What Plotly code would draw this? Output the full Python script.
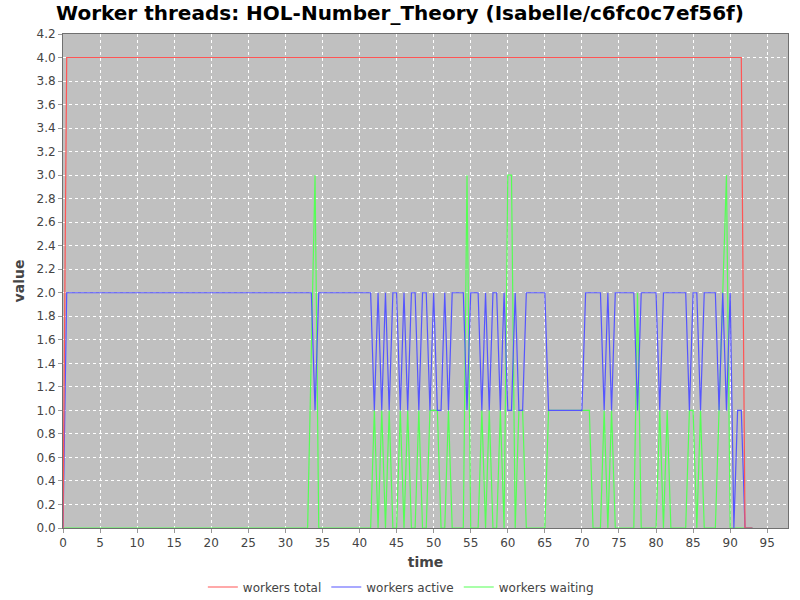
import plotly.graph_objects as go

# ---- data ----
total_t = [0, 0.5, 91.5, 92.0, 93.0]
total_v = [0, 4, 4, 0, 0]

active_t = [0, 0.5, 33.5, 34.0, 34.5, 41.5, 42.0, 42.5, 43.0, 43.5, 44.0, 44.5, 45.0, 45.5,
            46.0, 46.5, 47.0, 47.5, 48.0, 48.5, 49.0, 49.5, 50.0, 50.5, 51.0, 51.5, 52.0,
            52.5, 54.0, 54.5, 55.0, 56.0, 56.5, 57.0, 57.5, 58.0, 58.5, 59.0, 59.5, 60.0,
            60.5, 61.0, 61.5, 62.0, 62.5, 65.0, 65.5, 70.0, 70.5, 72.5, 73.0, 73.5, 74.0,
            74.5, 77.0, 77.5, 78.0, 80.0, 80.5, 81.0, 84.0, 84.5, 85.0, 85.5, 86.0, 86.5,
            88.0, 88.5, 89.0, 89.5, 90.0, 90.5, 91.0, 91.5, 92.0, 93.0]
active_v = [0, 2, 2, 1, 2, 2, 1, 2, 1, 2, 1, 2, 2, 1, 2, 1, 2, 2, 1, 2, 2, 1, 2, 1, 1, 2, 1,
            2, 2, 1, 2, 2, 1, 2, 1, 2, 2, 1, 2, 1, 1, 2, 1, 1, 2, 2, 1, 1, 2, 2, 1, 2, 1, 2,
            2, 1, 2, 2, 1, 2, 2, 1, 2, 2, 1, 2, 2, 1, 2, 1, 2, 0, 1, 1, 0, 0]

waiting_t = [0, 33.0, 34.0, 34.5, 41.5, 42.0, 42.5, 43.0, 43.5, 44.0, 44.5, 45.0, 45.5, 46.0,
             46.5, 47.0, 47.5, 48.0, 48.5, 49.0, 49.5, 50.5, 51.0, 51.5, 52.0, 52.5, 54.0,
             54.5, 55.0, 56.0, 56.5, 57.0, 57.5, 58.0, 58.5, 59.0, 59.5, 60.0, 60.5, 61.0,
             61.5, 62.0, 62.5, 65.0, 65.5, 71.0, 71.5, 72.5, 73.0, 73.5, 74.0, 74.5, 77.0,
             77.5, 78.0, 80.0, 80.5, 81.0, 81.5, 82.0, 84.0, 84.5, 85.0, 85.5, 86.0, 86.5,
             88.0, 88.5, 89.5, 90.0, 93.0]
waiting_v = [0, 0, 3, 0, 0, 1, 0, 1, 0, 1, 0, 0, 1, 0, 1, 0, 0, 1, 0, 0, 1, 1, 0, 0, 1, 0, 0,
             3, 0, 0, 1, 0, 1, 0, 0, 1, 0, 3, 3, 0, 1, 1, 0, 0, 1, 1, 0, 0, 1, 0, 1, 0, 0,
             2, 0, 0, 1, 0, 1, 0, 0, 1, 1, 0, 1, 0, 0, 1, 3, 0, 0]

assert len(active_t) == len(active_v)
assert len(waiting_t) == len(waiting_v)

x_ticks = list(range(0, 100, 5))
y_ticks = [round(i * 0.2, 1) for i in range(22)]

FONT = "DejaVu Sans"
fig = go.Figure()
# drawn in reverse order so "workers total" lies on top (as in the reference)
fig.add_trace(go.Scatter(x=waiting_t, y=waiting_v, mode="lines", name="workers waiting",
                         line=dict(color="#55ff55", width=1.2)))
fig.add_trace(go.Scatter(x=active_t, y=active_v, mode="lines", name="workers active",
                         line=dict(color="#5555ff", width=1.2)))
fig.add_trace(go.Scatter(x=total_t, y=total_v, mode="lines", name="workers total",
                         line=dict(color="#ff5555", width=1.2)))

fig.update_layout(
    width=800, height=600,
    paper_bgcolor="white", plot_bgcolor="#c0c0c0",
    margin=dict(l=63, r=12, t=34, b=72, autoexpand=False),
    font=dict(family=FONT, size=12, color="#444444"),
    title=dict(text="<b>Worker threads: HOL-Number_Theory (Isabelle/c6fc0c7ef56f)</b>",
               x=0.5, xanchor="center", y=1 - 13 / 600, yanchor="middle",
               font=dict(family=FONT, size=20, color="black")),
    showlegend=True,
    legend=dict(orientation="h", x=0.466, xanchor="center", y=(528 - 587) / 494,
                yanchor="middle", traceorder="reversed", itemwidth=30,
                font=dict(family=FONT, size=12, color="#444444"),
                bgcolor="rgba(0,0,0,0)"),
    xaxis=dict(range=[0, 97.8], tickvals=x_ticks, ticktext=[str(v) for v in x_ticks],
               automargin=False,
               showgrid=True, gridcolor="white", griddash="3px,3px", gridwidth=1,
               zeroline=False, showline=True, linecolor="#707070", linewidth=1, mirror=True,
               ticks="outside", ticklen=4, tickcolor="#999999",
               tickfont=dict(family=FONT, size=12, color="#444444"),
               title=dict(text="<b>time</b>", standoff=7,
                          font=dict(family=FONT, size=14, color="#444444"))),
    yaxis=dict(range=[0, 4.2], tickvals=y_ticks, ticktext=[f"{v:.1f}" for v in y_ticks],
               automargin=False,
               showgrid=True, gridcolor="white", griddash="3px,3px", gridwidth=1,
               zeroline=False, showline=True, linecolor="#707070", linewidth=1, mirror=True,
               ticks="outside", ticklen=4, tickcolor="#999999",
               tickfont=dict(family=FONT, size=12, color="#444444"),
               title=dict(text="<b>value</b>", standoff=8,
                          font=dict(family=FONT, size=14, color="#444444"))),
)

fig.write_html("out.html", config={"displayModeBar": False},
               post_script="document.body.style.margin='0';document.body.style.overflow='hidden';")
